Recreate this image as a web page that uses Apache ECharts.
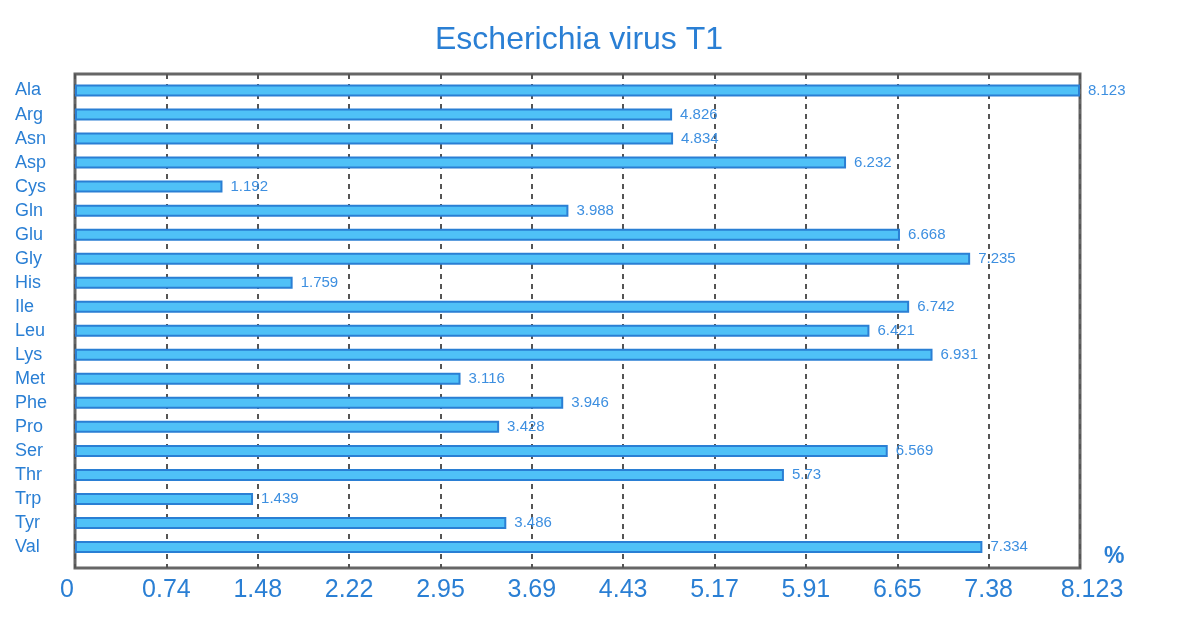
<!DOCTYPE html>
<html><head><meta charset="utf-8">
<script src="https://cdn.jsdelivr.net/npm/echarts@6/dist/echarts.min.js"></script>
<style>html,body{margin:0;padding:0;background:#fff}#c{width:1200px;height:642px}</style>
</head><body><div id="c"></div>
<script>
const categories = ["Ala","Arg","Asn","Asp","Cys","Gln","Glu","Gly","His","Ile","Leu","Lys","Met","Phe","Pro","Ser","Thr","Trp","Tyr","Val"];
const values = [8.123,4.826,4.834,6.232,1.192,3.988,6.668,7.235,1.759,6.742,6.421,6.931,3.116,3.946,3.428,6.569,5.73,1.439,3.486,7.334];
const axisMax = 8.123;
const tickCount = 11;
const titleText = "Escherichia virus T1";
const unitName = "%";

const blue = '#2a7fd4';
const font = 'Liberation Sans, Arial, sans-serif';
const chart = echarts.init(document.getElementById('c'));
chart.setOption({
  animation: false,
  textStyle: {fontFamily: font},
  title: {text: titleText, left: 430, top: 19,
    textStyle: {color: blue, fontSize: 32, fontWeight: 'normal', fontFamily: font}},
  grid: [
    {left: 75, right: 120, top: 74, bottom: 74, show: true, borderColor: '#666', borderWidth: 3, z: 0},
    {left: 75, right: 120, top: 78.5, bottom: 83}
  ],
  xAxis: [{
    gridIndex: 0, type: 'value', min: 0, max: axisMax, interval: axisMax / tickCount,
    name: unitName, nameLocation: 'end', nameGap: 24,
    nameTextStyle: {color: blue, fontSize: 23, fontWeight: 'bold', verticalAlign: 'bottom'},
    axisLine: {show: false}, axisTick: {show: false},
    splitLine: {show: true, lineStyle: {color: '#555', type: [5, 5], width: 2}},
    axisLabel: {color: blue, fontSize: 25, margin: 10,
      formatter: v => {
        if (Math.abs(v - axisMax) < 1e-6) return '{mx|' + axisMax + '}';
        if (v === 0) return '{mn|0}';
        return String(parseFloat(v.toFixed(2)));
      },
      rich: {
        mx: {color: blue, fontSize: 25, padding: [0, 0, 0, 24]},
        mn: {color: blue, fontSize: 25, padding: [0, 16, 0, 0]}
      }}
  }, {
    gridIndex: 1, type: 'value', min: 0, max: axisMax, show: false
  }],
  yAxis: [{
    gridIndex: 0, type: 'category', data: categories, inverse: true, show: false
  }, {
    gridIndex: 1, type: 'category', data: categories, inverse: true,
    axisLine: {show: false}, axisTick: {show: false}, splitLine: {show: false},
    axisLabel: {color: blue, fontSize: 18, align: 'left', margin: 60}
  }],
  series: [{
    type: 'bar', xAxisIndex: 1, yAxisIndex: 1, data: values, barWidth: 12,
    itemStyle: {color: '#4fc1f7', borderColor: blue, borderWidth: 2},
    label: {show: true, position: 'right', distance: 8, color: '#3d8fe0', fontSize: 15}
  }]
});
</script></body></html>
